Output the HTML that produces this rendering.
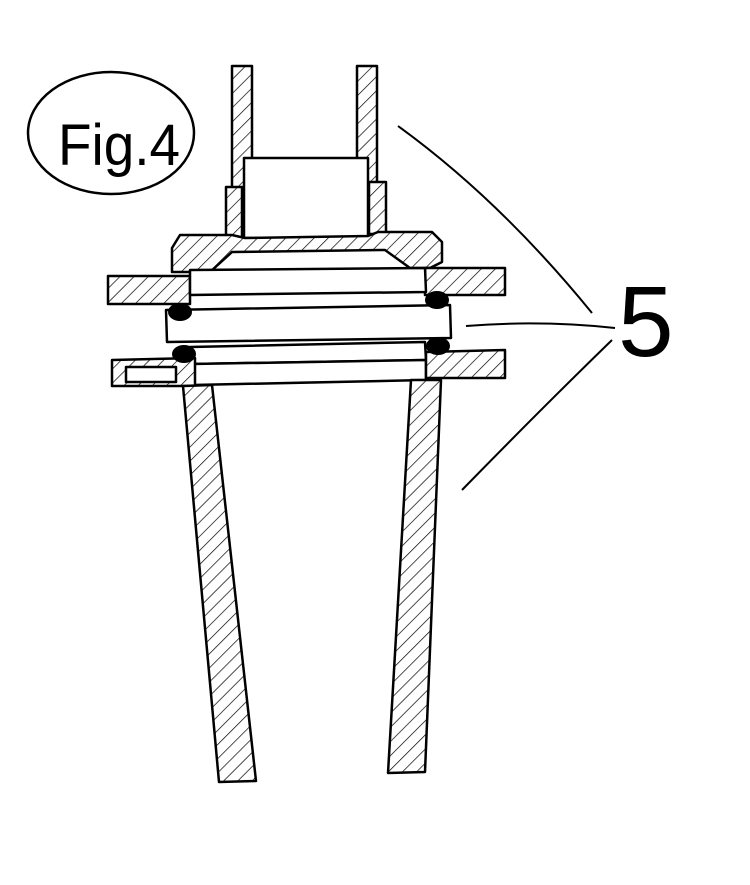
<!DOCTYPE html>
<html><head><meta charset="utf-8"><style>
html,body{margin:0;padding:0;background:#fff;}
svg{display:block}
</style></head><body>
<svg width="750" height="885" viewBox="0 0 750 885" xmlns="http://www.w3.org/2000/svg">
<defs>
<pattern id="h" patternUnits="userSpaceOnUse" width="10" height="10" patternTransform="rotate(45)">
<rect width="10" height="10" fill="#fff"/><line x1="0" y1="0" x2="0" y2="10" stroke="#000" stroke-width="1.4"/>
</pattern>
</defs>
<g stroke="#000" stroke-width="2.5" fill="none" stroke-linejoin="round">
<ellipse cx="111" cy="133" rx="83" ry="61"/>
<rect x="232" y="66" width="20" height="175" fill="url(#h)"/>
<rect x="357" y="66" width="20" height="172" fill="url(#h)"/>
<rect x="226" y="187" width="16" height="53" fill="url(#h)"/>
<rect x="369" y="182" width="17" height="52" fill="url(#h)"/>
<rect x="244" y="158" width="124" height="80" fill="#fff"/>
<path d="M172 248 L180 235 L232 235 L245 238 L368 236 L378 232 L432 232 L442 242 L442 262 L430 268 L410 268 L385 250 L232 252 L210 272 L172 272 Z" fill="url(#h)"/>
<rect x="108" y="276" width="82" height="28" fill="url(#h)"/>
<rect x="425" y="268" width="80" height="27" fill="url(#h)"/>
<path d="M190 270 L425 268 L426 292 L190 295 Z" fill="#fff"/>
<path d="M166 310 L450 305 L451 338 L167 342 Z" fill="#fff"/>
<path d="M190 347 L425 342 L426 360 L192 364 Z" fill="#fff"/>
<path d="M192 364 L426 360 L426 380 L193 385 Z" fill="#fff"/>
<path d="M112 360 L195 358 L195 386 L112 386 Z" fill="url(#h)"/>
<rect x="126" y="367" width="50" height="15" fill="#fff"/>
<path d="M426 352 L505 350 L505 378 L426 378 Z" fill="url(#h)"/>
<path d="M183 386 L212 385 L256 781 L219 782 Z" fill="url(#h)"/>
<path d="M411 380 L441 380 L425 772 L388 773 Z" fill="url(#h)"/>
</g>
<g fill="#000">
<ellipse cx="180" cy="312" rx="12" ry="9"/>
<ellipse cx="437" cy="300" rx="12" ry="9"/>
<ellipse cx="184" cy="354" rx="12" ry="9"/>
<ellipse cx="438" cy="346" rx="12" ry="9"/>
</g>
<g stroke="#000" stroke-width="2" fill="none">
<path d="M398 126 Q500 200 592 313"/>
<path d="M466 326 Q540 320 615 328"/>
<path d="M462 490 Q540 410 612 340"/>
</g>
<text x="58" y="165" font-family="Liberation Sans, sans-serif" font-size="58" textLength="122" lengthAdjust="spacingAndGlyphs" fill="#000">Fig.4</text>
<text x="618" y="356" font-family="Liberation Sans, sans-serif" font-size="100" fill="#000">5</text>
</svg>
</body></html>
